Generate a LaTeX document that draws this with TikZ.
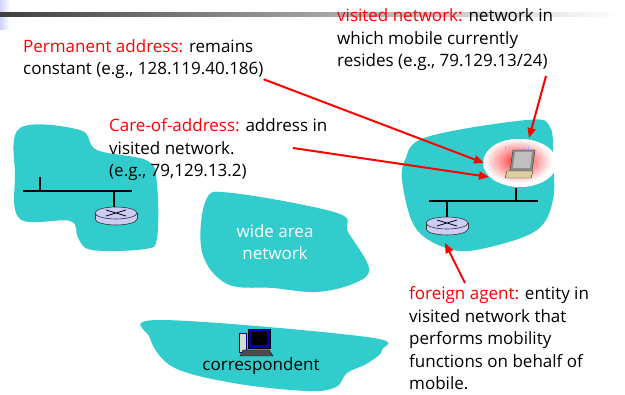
\documentclass[tikz,border=0pt]{standalone}
\usepackage{fontspec}
\setmainfont{Open Sans}
\usetikzlibrary{arrows.meta}

\definecolor{cloudteal}{RGB}{51,204,204}
\definecolor{routerblue}{RGB}{204,204,245}
\definecolor{keytan}{RGB}{222,206,160}

\newcommand{\hot}[1]{\textcolor{red}{#1}}
% router icon, #1 = centre
\newcommand{\routerat}[1]{%
  \begin{scope}[shift={(#1)}]
    \filldraw[router] (0,4) ellipse [x radius=21, y radius=6];
    \fill[routerblue] (-21,-2) rectangle (21,4);
    \draw[router] (-21,-2) -- (-21,4) (21,-2) -- (21,4);
    \filldraw[router] (0,-2) ellipse [x radius=21, y radius=6];
    \draw[line width=0.8pt] (-10,-5) -- (10,1) (-10,1) -- (10,-5);
  \end{scope}}

\begin{document}
\begin{tikzpicture}[x=1pt, y=-1pt,
    txt/.style={anchor=base west, align=left, inner sep=0pt, font=\fontsize{17}{22.5}\selectfont},
    pointer/.style={red, line width=2pt, -{Triangle[length=10pt,width=8pt]}},
    bus/.style={line width=1.2pt},
    router/.style={draw=black!80, fill=routerblue, line width=0.6pt}]
  \useasboundingbox (0,0) rectangle (625,395);

  % title bar
  \shade[left color=blue!18, right color=white] (0,0) rectangle (10,30);
  \shade[left color=black!75, right color=white] (0,13) rectangle (620,17);

  % clouds
  \fill[cloudteal] plot[smooth cycle, tension=0.6] coordinates {
    (20,128) (80,130) (97,150) (148,161) (157,185) (157,238) (145,249)
    (92,250) (78,238) (70,221) (20,219) (15,175)};
  \fill[cloudteal] plot[smooth cycle, tension=0.6] coordinates {
    (206,200) (232,193) (337,213) (348,232) (369,268) (355,283)
    (317,292) (273,288) (227,284) (202,252)};
  \fill[cloudteal] plot[smooth cycle, tension=0.6] coordinates {
    (160,320) (367,337) (382,350) (368,363) (347,373) (336,387)
    (307,391) (233,383) (173,367) (150,338)};
  \fill[cloudteal] plot[smooth cycle, tension=0.6] coordinates {
    (427,137) (527,120) (550,127) (553,160) (553,200) (537,230)
    (490,247) (453,250) (417,230) (403,187) (405,160)};

  % home network
  \coordinate (homeL) at (23,191);
  \coordinate (homeR) at (132,191);
  \coordinate (homeHost) at (40,177);
  \coordinate (homeTap) at (114,191);
  \coordinate (homeRtr) at (114,207);
  \draw[bus] (homeL) -- (homeR);
  \draw[bus] (homeHost) -- (40,191);
  \draw[bus] (homeTap) -- (homeRtr);
  \routerat{116,215}

  % visited network
  \coordinate (visL) at (429,201);
  \coordinate (visR) at (538,201);
  \coordinate (visTap) at (447,201);
  \coordinate (visRtr) at (447,217);
  \coordinate (mobTap) at (516,201);
  \fill[white] (520,163) ellipse [x radius=37, y radius=24];
  \shade[inner color=red!85, outer color=white] (518,161) ellipse [x radius=34, y radius=22];
  \coordinate (mobile) at (516,188);
  \draw[bus] (visL) -- (visR);
  \draw[bus] (visTap) -- (visRtr);
  \draw[bus] (mobile) -- (mobTap);
  \routerat{447,225}

  % laptop
  \draw[blue!30, line width=0.7pt] (505,146) arc[start angle=200, end angle=160, radius=6]
    (509,146) arc[start angle=200, end angle=160, radius=4]
    (528,146) arc[start angle=-20, end angle=20, radius=6]
    (524,146) arc[start angle=-20, end angle=20, radius=4];
  \filldraw[fill=black!45, draw=black!80] (513,150) -- (535,150) -- (532,171) -- (510,171) -- cycle;
  \fill[black!25] (515,152) -- (532,152) -- (530,168) -- (513,168) -- cycle;
  \filldraw[fill=keytan, draw=black!80] (507,171) -- (533,171) -- (531,178) -- (505,178) -- cycle;

  % correspondent host
  \filldraw[fill=black!15, draw=blue!60!black] (239,333) rectangle (246,352);
  \filldraw[fill=blue!70!black, draw=black] (248,329) rectangle (270,348);
  \fill[black] (251,332) rectangle (267,345);
  \filldraw[fill=black!70, draw=black] (243,350) -- (269,350) -- (273,356) -- (240,356) -- cycle;

  % labels (placed at the baseline of their last line)
  \node[txt] (perm) at (23,75) {\hot{Permanent address:} remains\\constant (e.g., 128.119.40.186)};
  \node[txt] (coa) at (109,177) {\hot{Care-of-address:} address in\\visited network.\\(e.g., 79,129.13.2)};
  \node[txt] (visited) at (337,67) {\hot{visited network:} network in\\which mobile currently\\resides (e.g., 79.129.13/24)};
  \node[txt] (fa) at (409,390) {\hot{foreign agent:} entity in\\visited network that\\performs mobility\\functions on behalf of\\mobile.};
  \node[txt, anchor=center, align=center, white] (wan) at (275,242) {wide area\\network};
  \node[txt, anchor=base] (corr) at (261,371) {correspondent};

  % pointers
  \coordinate (coaEnd) at (293,148);
  \coordinate (visEnd) at (546,76);
  \coordinate (faEnd) at (465,283);
  \coordinate (glowA) at (484,163);
  \coordinate (glowB) at (489,177);
  \coordinate (glowTop) at (529,138);
  \coordinate (faRtr) at (445,243);
  \draw[pointer] (perm.south east) -- (glowA);
  \draw[pointer] (coaEnd) -- (glowB);
  \draw[pointer] (visEnd) -- (glowTop);
  \draw[pointer] (faEnd) -- (faRtr);
\end{tikzpicture}
\end{document}
